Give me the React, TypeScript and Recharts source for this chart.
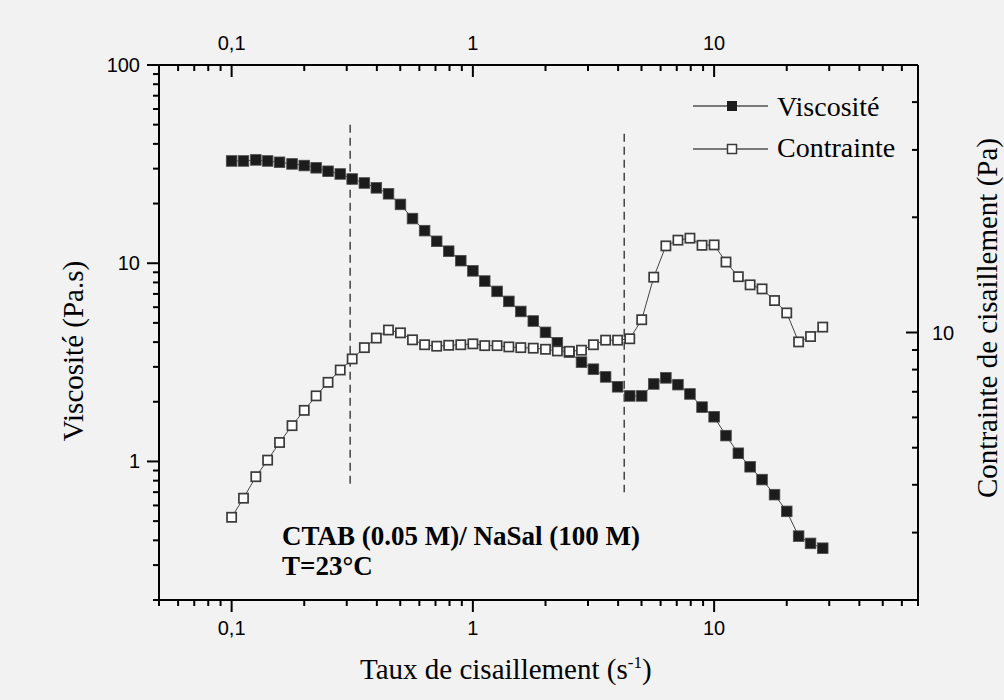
import React from "react";
import { LineChart, Line, XAxis, YAxis, ReferenceLine } from "recharts";

// shear rate (s-1), 20 points per decade
const shearRate = [
  0.1, 0.112, 0.126, 0.141, 0.158, 0.178, 0.2, 0.224, 0.251, 0.282,
  0.316, 0.355, 0.398, 0.447, 0.501, 0.562, 0.631, 0.708, 0.794, 0.891,
  1, 1.12, 1.26, 1.41, 1.58, 1.78, 2, 2.24, 2.51, 2.82,
  3.16, 3.55, 3.98, 4.47, 5.01, 5.62, 6.31, 7.08, 7.94, 8.91,
  10, 11.2, 12.6, 14.1, 15.8, 17.8, 20, 22.4, 25.1, 28.2,
];

// Viscosité (Pa.s), left axis
const viscosity = [
  32.8, 32.8, 33.2, 32.8, 32.3, 31.7, 31.1, 30.3, 29.1, 28.2,
  26.6, 25.4, 24.0, 22.4, 19.8, 16.8, 14.6, 12.9, 11.5, 10.3,
  9.15, 8.13, 7.21, 6.42, 5.71, 5.11, 4.48, 3.97, 3.56, 3.17,
  2.92, 2.67, 2.38, 2.14, 2.14, 2.46, 2.64, 2.44, 2.19, 1.88,
  1.68, 1.35, 1.1, 0.94, 0.81, 0.68, 0.56, 0.42, 0.386, 0.365,
];

// Contrainte de cisaillement (Pa), right axis
const stress = [
  3.29, 3.69, 4.2, 4.64, 5.16, 5.71, 6.26, 6.83, 7.41, 7.98,
  8.53, 9.13, 9.67, 10.15, 9.98, 9.57, 9.29, 9.21, 9.26, 9.29,
  9.34, 9.24, 9.24, 9.17, 9.13, 9.1, 9.04, 8.95, 8.93, 8.99,
  9.29, 9.55, 9.55, 9.63, 10.8, 13.95, 16.84, 17.43, 17.64, 16.9,
  16.94, 15.28, 13.99, 13.32, 13.0, 12.12, 11.25, 9.45, 9.76, 10.33,
];

const xTicks = [
  0.05, 0.06, 0.07, 0.08, 0.09, 0.1, 0.2, 0.3, 0.4, 0.5, 0.6, 0.7, 0.8, 0.9,
  1, 2, 3, 4, 5, 6, 7, 8, 9, 10, 20, 30, 40, 50, 60, 70,
];
const leftTicks = [
  0.2, 0.3, 0.4, 0.5, 0.6, 0.7, 0.8, 0.9, 1, 2, 3, 4, 5, 6, 7, 8, 9,
  10, 20, 30, 40, 50, 60, 70, 80, 90, 100,
];
const rightTicks = [2, 3, 4, 5, 6, 7, 8, 9, 10, 20, 30, 40, 50];
const tickLabels: Record<string, string> = { "0.1": "0,1", "1": "1", "10": "10", "100": "100" };

// transition markers (dashed verticals)
const transitions = [
  { x: 0.31, top: 50, bottom: 0.77 },
  { x: 4.24, top: 45, bottom: 0.7 },
];

const data = shearRate.map((x, i) => ({ x, viscosite: viscosity[i], contrainte: stress[i] }));

const isMajor = (v: number) => {
  const l = Math.log10(v);
  return Math.abs(l - Math.round(l)) < 1e-6;
};

const tickFont = { fontFamily: "'Liberation Sans', Arial, sans-serif", fontSize: 20, fill: "#000" };
const serif = "'Liberation Serif', 'Times New Roman', serif";

function AxisTick(props: any) {
  const { x, y, payload, side, labels } = props;
  const v = payload.value;
  const major = isMajor(v);
  const len = major ? 12 : 6;
  const label = labels ? tickLabels[String(v)] : undefined;
  if (side === "bottom") {
    return (
      <g>
        <line x1={x} y1={y} x2={x} y2={y + len} stroke="#000" strokeWidth={2} />
        {label && (
          <text x={x} y={y + 35} textAnchor="middle" {...tickFont}>{label}</text>
        )}
      </g>
    );
  }
  if (side === "top") {
    return (
      <g>
        <line x1={x} y1={y} x2={x} y2={y + len} stroke="#000" strokeWidth={2} />
        {label && (
          <text x={x} y={y - 15} textAnchor="middle" {...tickFont}>{label}</text>
        )}
      </g>
    );
  }
  if (side === "left") {
    return (
      <g>
        <line x1={x} y1={y} x2={x - len} y2={y} stroke="#000" strokeWidth={2} />
        {label && (
          <text x={x - 19} y={y + 7} textAnchor="end" {...tickFont}>{label}</text>
        )}
      </g>
    );
  }
  return (
    <g>
      <line x1={x} y1={y} x2={x - len} y2={y} stroke="#000" strokeWidth={2} />
      {label && (
        <text x={x + 14} y={y + 7} textAnchor="start" {...tickFont}>{label}</text>
      )}
    </g>
  );
}

const FilledSquare = (p: any) => (
  <rect key={p.key} x={p.cx - 5.3} y={p.cy - 5.3} width={10.6} height={10.6} fill="#1c1c1c" stroke="#4a4a4a" strokeWidth={0.8} />
);
const OpenSquare = (p: any) => (
  <rect key={p.key} x={p.cx - 4.6} y={p.cy - 4.6} width={9.2} height={9.2} fill="#fff" stroke="#3a3a3a" strokeWidth={1.7} />
);

export default function App() {
  return (
    <div style={{ position: "absolute", left: 0, top: 0, width: 1004, height: 700, background: "#f2f2f2" }}>
      <LineChart
        width={1004}
        height={700}
        data={data}
        margin={{ top: 25, right: 46, bottom: 60, left: 99 }}
      >
        <XAxis
          xAxisId="bottom"
          dataKey="x"
          type="number"
          scale="log"
          domain={[0.05, 70]}
          allowDataOverflow
          ticks={xTicks}
          interval={0}
          height={40}
          tickSize={0}
          tickMargin={0}
          tickLine={false}
          axisLine={{ stroke: "#000", strokeWidth: 2 }}
          tick={(p: any) => <AxisTick {...p} side="bottom" labels />}
        />
        <XAxis
          xAxisId="top"
          orientation="top"
          dataKey="x"
          type="number"
          scale="log"
          domain={[0.05, 70]}
          allowDataOverflow
          ticks={xTicks}
          interval={0}
          height={40}
          tickSize={0}
          tickMargin={0}
          tickLine={false}
          axisLine={{ stroke: "#000", strokeWidth: 2 }}
          tick={(p: any) => <AxisTick {...p} side="top" labels />}
        />
        <YAxis
          yAxisId="left"
          type="number"
          scale="log"
          domain={[0.2, 100]}
          allowDataOverflow
          ticks={leftTicks}
          interval={0}
          width={60}
          tickSize={0}
          tickMargin={0}
          tickLine={false}
          axisLine={{ stroke: "#000", strokeWidth: 2 }}
          tick={(p: any) => <AxisTick {...p} side="left" labels />}
        />
        <YAxis
          yAxisId="right"
          orientation="right"
          type="number"
          scale="log"
          domain={[2, 50]}
          allowDataOverflow
          ticks={rightTicks}
          interval={0}
          width={40}
          tickSize={0}
          tickMargin={0}
          tickLine={false}
          axisLine={{ stroke: "#000", strokeWidth: 2 }}
          tick={(p: any) => <AxisTick {...p} side="right" labels />}
        />
        {transitions.map((t) => (
          <ReferenceLine
            key={t.x}
            xAxisId="bottom"
            yAxisId="left"
            segment={[{ x: t.x, y: t.top }, { x: t.x, y: t.bottom }]}
            stroke="#444"
            strokeWidth={1.5}
            strokeDasharray="8 5"
          />
        ))}
        <Line
          xAxisId="bottom"
          yAxisId="left"
          dataKey="viscosite"
          name="Viscosité"
          type="linear"
          stroke="#444"
          strokeWidth={1}
          dot={FilledSquare}
          activeDot={false}
          isAnimationActive={false}
        />
        <Line
          xAxisId="bottom"
          yAxisId="right"
          dataKey="contrainte"
          name="Contrainte"
          type="linear"
          stroke="#444"
          strokeWidth={1}
          dot={OpenSquare}
          activeDot={false}
          isAnimationActive={false}
        />
      </LineChart>
      <svg
        width={1004}
        height={700}
        style={{ position: "absolute", left: 0, top: 0, pointerEvents: "none" }}
      >
        {/* legend */}
        <line x1={693} y1={106} x2={768} y2={106} stroke="#000" strokeWidth={1} />
        <rect x={727} y={101} width={10} height={10} fill="#1c1c1c" />
        <text x={777} y={116} fontFamily={serif} fontSize={28} fill="#000">Viscosité</text>
        <line x1={693} y1={149} x2={768} y2={149} stroke="#000" strokeWidth={1} />
        <rect x={727.5} y={144.5} width={9} height={9} fill="#fff" stroke="#3a3a3a" strokeWidth={1.5} />
        <text x={777} y={157} fontFamily={serif} fontSize={28} fill="#000">Contrainte</text>

        {/* annotation */}
        <text x={282} y={545} fontFamily={serif} fontSize={27} fontWeight="bold" fill="#000">
          CTAB (0.05 M)/ NaSal (100 M)
        </text>
        <text x={282} y={575} fontFamily={serif} fontSize={27} fontWeight="bold" fill="#000">
          T=23°C
        </text>

        {/* axis titles */}
        <text x={360} y={679} fontFamily={serif} fontSize={29} fill="#000">
          Taux de cisaillement (s
          <tspan dy={-11} fontSize={17}>-1</tspan>
          <tspan dy={11}>)</tspan>
        </text>
        <text
          transform="translate(83,351) rotate(-90)"
          textAnchor="middle"
          fontFamily={serif}
          fontSize={29}
          fill="#000"
        >
          Viscosité (Pa.s)
        </text>
        <text
          transform="translate(997,318) rotate(-90)"
          textAnchor="middle"
          fontFamily={serif}
          fontSize={29}
          fill="#000"
        >
          Contrainte de cisaillement (Pa)
        </text>
      </svg>
    </div>
  );
}
